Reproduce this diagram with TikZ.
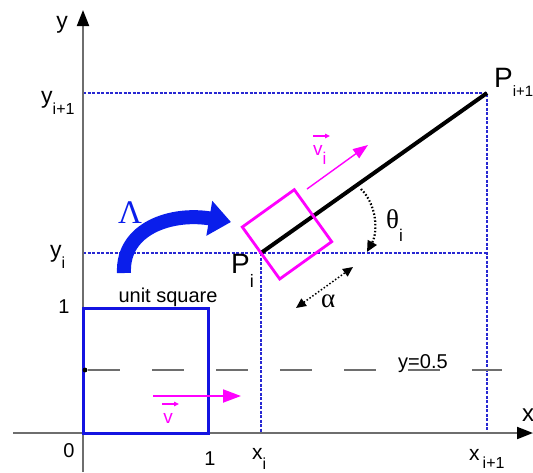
\documentclass[tikz,border=0pt]{standalone}
\usepackage{fontspec}
\setmainfont{Liberation Sans}
\newfontfamily\grk{Liberation Serif}
\usetikzlibrary{arrows.meta}
\definecolor{axisgray}{RGB}{110,110,110}
\definecolor{guideblue}{RGB}{40,40,210}
\definecolor{sqblue}{RGB}{20,20,225}
\definecolor{lamblue}{RGB}{10,30,235}
\definecolor{mag}{RGB}{255,0,255}
\newcommand\lowsub[2][16]{\raisebox{-0.5em}{\fontsize{#1}{#1}\selectfont #2}}
\begin{document}
\begin{tikzpicture}[x=1pt,y=-1pt,
  axis/.style={draw=axisgray, line width=2pt, -{Triangle[length=16pt,width=12pt,black]}},
  guide/.style={draw=guideblue, line width=1.1pt, dash pattern=on 3pt off 1.5pt},
  lbl/.style={inner sep=0pt, font=\fontsize{23}{23}\selectfont},
  num/.style={inner sep=0pt, font=\fontsize{20}{20}\selectfont},
  vlbl/.style={inner sep=0pt, text=mag, font=\fontsize{19}{19}\selectfont},
  vecarr/.style={draw=mag, line width=1.1pt, -{Triangle[length=5pt,width=4.5pt]}},
  seg/.style={draw=black, line width=4pt},
  magsq/.style={draw=mag, line width=2.8pt, line join=miter},
  unitsq/.style={draw=sqblue, line width=3pt},
  halfline/.style={draw=axisgray, line width=2pt, dash pattern=on 32pt off 32pt},
  dotarr/.style={draw=black, line width=1.5pt, dotted},
]
\useasboundingbox (0,0) rectangle (533,472);

% named points
\coordinate (O) at (83,433);
\coordinate (ytop) at (83,10);
\coordinate (ybot) at (83,472);
\coordinate (xleft) at (13,433);
\coordinate (xright) at (533,433);
\coordinate (Pi) at (261,253);
\coordinate (Pn) at (487,93);
\coordinate (yn) at (83,93);
\coordinate (yi) at (83,253);
\coordinate (xi) at (261,433);
\coordinate (xn) at (487,433);
\coordinate (yiend) at (487,253);

% guides
\draw[guide] (yn) -- (Pn) -- (xn);
\draw[guide] (yi) -- (yiend);
\draw[guide] (Pi) -- (xi);

% y = 0.5 line
\draw[halfline] (88,370) -- (502,370);

% axes
\draw[axis] (ybot) -- (ytop);
\draw[axis] (xleft) -- (xright);

% unit square
\draw[unitsq] (O) rectangle (208,308);
\fill[black] (85,370) circle (2.4pt);

% vector v
\coordinate (va) at (153,396);
\coordinate (vb) at (241,396);
\draw[draw=mag, line width=2pt, -{Triangle[length=18pt,width=13pt]}] (va) -- (vb);
\node[vlbl, anchor=base] (vl) at (168,423) {v};
\draw[vecarr] (162,404) -- (179,404);

% segment Pi -> Pi+1
\draw[seg] (Pi) -- (Pn);

% magenta square
\coordinate (m1) at (242.3,227);
\coordinate (m2) at (294.3,189.7);
\coordinate (m3) at (331.7,241.7);
\coordinate (m4) at (279.7,279);
\draw[magsq] (m1) -- (m2) -- (m3) -- (m4) -- cycle;

% vector v_i
\coordinate (via) at (307,189);
\coordinate (vib) at (368,145);
\draw[draw=mag, line width=1.4pt, -{Triangle[length=15pt,width=11pt]}] (via) -- (vib);
\node[vlbl, anchor=base west] (vil) at (313,155) {v\lowsub[17]{i}};
\draw[vecarr] (313,136) -- (330,136);

% theta arc
\coordinate (ta) at (361,189);
\coordinate (tb) at (367,252);
\draw[dotarr, line width=2.2pt, -{Triangle[length=11pt,width=10pt]}] (ta) .. controls (377,205) and (378,232) .. (tb);
\node[inner sep=0pt, anchor=base west, font=\fontsize{27}{27}\selectfont] (thl) at (386,228) {{\grk θ}\lowsub[17]{i}};

% alpha arrow
\coordinate (aa) at (296,308);
\coordinate (ab) at (353,267);
\draw[dotarr, {Triangle[length=10pt,width=9pt]}-{Triangle[length=10pt,width=9pt]}] (aa) -- (ab);
\node[inner sep=0pt, anchor=base west, font=\fontsize{27}{27}\grk] (al) at (321,307) {α};

% Lambda arrow
\coordinate (la) at (124,273);
\coordinate (lb) at (231,222);
\draw[draw=lamblue, line width=14pt, -{Triangle[length=22pt,width=34pt]}] (la) .. controls (122,228) and (172,212) .. (lb);
\node[inner sep=0pt, anchor=base, text=lamblue, font=\fontsize{33}{33}\grk] (lam) at (130,223) {Λ};

% labels
\node[lbl, anchor=base] (ylab) at (62,28) {y};
\node[inner sep=0pt, anchor=base west, font=\fontsize{24}{24}\selectfont] (xlab) at (522,421) {x};
\node[lbl, anchor=base west] (yil) at (41,103) {y\lowsub{i+1}};
\node[lbl, anchor=base west] (yii) at (50,257) {y\lowsub{i}};
\node[num, anchor=base] (one) at (64,313) {1};
\node[num, anchor=base] (zero) at (69,457) {0};
\node[num, anchor=base] (onex) at (210,465) {1};
\node[inner sep=0pt, anchor=base west, font=\fontsize{21}{21}\selectfont] (xil) at (252,459) {x\lowsub{i}};
\node[inner sep=0pt, anchor=base west, font=\fontsize{21}{21}\selectfont] (xnl) at (469,460) {x\hspace{3pt}\raisebox{-0.4em}{\fontsize{16}{16}\selectfont i+1}};
\node[inner sep=0pt, anchor=base west, font=\fontsize{28}{28}\selectfont] (pil) at (231,273) {P\lowsub[18]{i}};
\node[inner sep=0pt, anchor=base west, font=\fontsize{28}{28}\selectfont] (pnl) at (494,87) {P\raisebox{-0.35em}{\fontsize{15}{15}\selectfont i+1}};
\node[inner sep=0pt, anchor=base, font=\fontsize{20}{20}\selectfont] (usq) at (168,302) {unit square};
\node[inner sep=0pt, anchor=base west, font=\fontsize{20}{20}\selectfont] (half) at (398,368) {y=0.5};
\end{tikzpicture}
\end{document}
